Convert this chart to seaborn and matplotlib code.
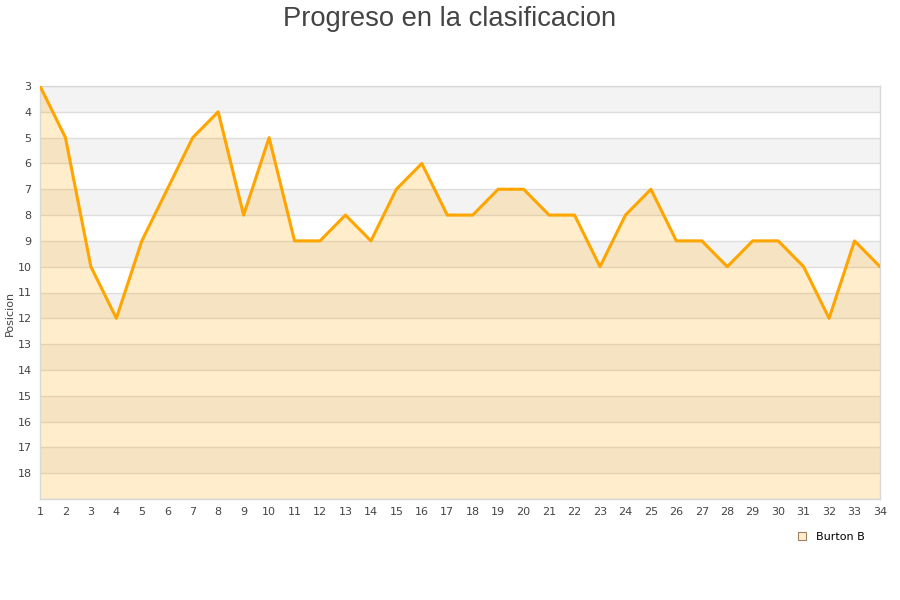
import matplotlib
matplotlib.use("Agg")
import matplotlib.pyplot as plt
import seaborn as sns
import pandas as pd
from matplotlib.lines import Line2D

jornadas = list(range(1, 35))
posiciones = [3, 5, 10, 12, 9, 7, 5, 4, 8, 5, 9, 9, 8, 9, 7, 6, 8, 8, 7, 7,
              8, 8, 10, 8, 7, 9, 9, 10, 9, 9, 10, 12, 9, 10]
y_ticks = list(range(3, 19))
equipo = "Burton B"
titulo = "Progreso en la clasificacion"
y_label = "Posicion"

df = pd.DataFrame({"Jornada": jornadas, "Posicion": posiciones})

sns.set_style("white")
plt.rcParams['font.family'] = ['DejaVu Sans']

fig = plt.figure(figsize=(9, 6), dpi=100)
ax = fig.add_axes([40/900, 101/600, 840/900, 413/600])

y_min, y_max = 3, 19
# alternating bands
for k in range(y_min, y_max):
    if (k - y_min) % 2 == 0:
        ax.axhspan(k, k + 1, color="#f3f3f3", zorder=0, lw=0)
for k in range(y_min, y_max + 1):
    ax.axhline(k, color="#dddddd", lw=1, zorder=1)

ax.fill_between(df["Jornada"], df["Posicion"], y_max, color="#ffa500", alpha=0.2, lw=0, zorder=2)
sns.lineplot(data=df, x="Jornada", y="Posicion", ax=ax, color="#ffa500", lw=2.2, zorder=3)

ax.set_xlim(1, 34)
ax.set_ylim(y_max, y_min)
ax.set_xticks(jornadas)
ax.set_yticks(y_ticks)
ax.tick_params(axis="both", labelsize=8, colors="#444444", length=0, pad=6)
ax.set_xlabel("")
ax.set_ylabel(y_label, fontsize=8, color="#444444", labelpad=4)
ax.yaxis.set_label_coords(-0.030, 0.45)
for s in ax.spines.values():
    s.set_color("#d8d8d8")
    s.set_linewidth(1)

fig.suptitle(titulo, fontsize=19.7, color="#444444", family=["Liberation Sans"], y=0.99)

handle = Line2D([], [], marker="s", linestyle="none", markersize=6,
                markerfacecolor="#ffedcc", markeredgecolor="#a08060", markeredgewidth=0.8)
leg = fig.legend([handle], [equipo], loc="center left", bbox_to_anchor=(786/900, 1 - 537/600),
                 frameon=False, fontsize=8, handletextpad=0.3, borderaxespad=0)
for t in leg.get_texts():
    t.set_color("#000000")

fig.savefig("out.png", dpi=100)
